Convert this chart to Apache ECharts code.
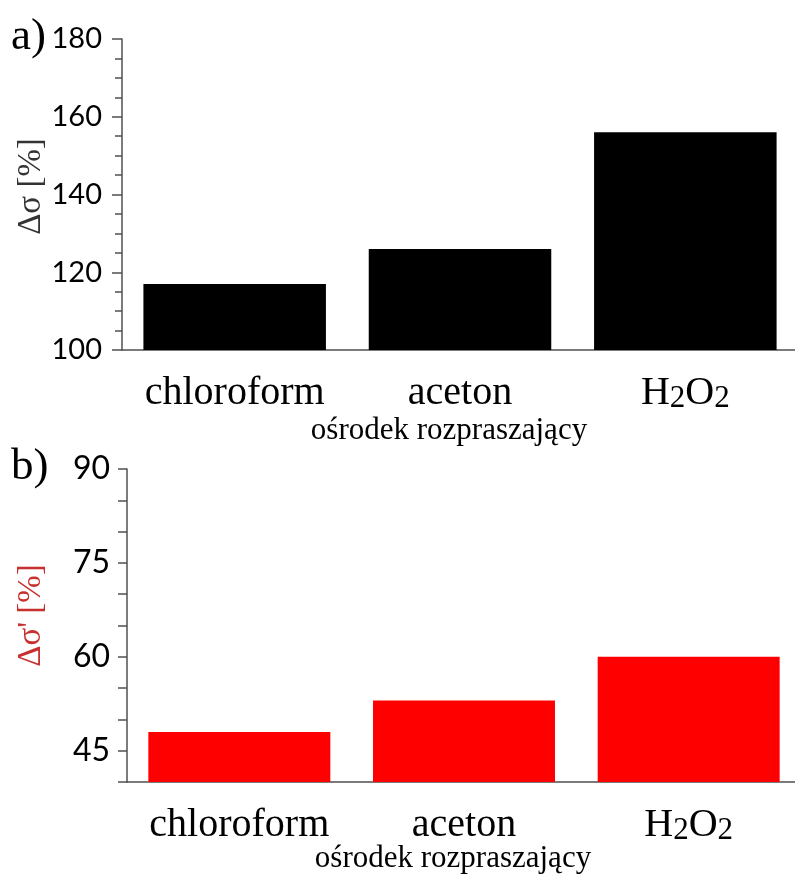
<!DOCTYPE html>
<html>
<head>
<meta charset="utf-8">
<script src="https://cdn.jsdelivr.net/npm/echarts@6/dist/echarts.min.js"></script>
<style>
html,body{margin:0;padding:0;background:#fff;overflow:hidden;}
#c{width:795px;height:874px;}
</style>
</head>
<body>
<div id="c"></div>
<script>
// ---- data ----
const categories = ['chloroform', 'aceton', 'H2O2'];
const sigmaValues = [117, 126, 156];        // panel a) Δσ [%]
const sigmaPrimeValues = [48, 53, 60];      // panel b) Δσ' [%]
const topMajorTicks = [100, 120, 140, 160, 180];
const bottomMajorTicks = [45, 60, 75, 90];
const xTitle = 'ośrodek rozpraszający';
const yTitleTop = 'Δσ [%]';
const yTitleBottom = "Δσ' [%]";

const SERIF = '"Liberation Serif","Times New Roman",serif';
const SANS = 'Lato, "Open Sans", sans-serif';
const AX = '#505050';

function catFormatter(v) {
  // render digits as subscripts (chemical formula)
  let out = '';
  let buf = '';
  for (const ch of v) {
    if (/[0-9]/.test(ch)) {
      if (buf) { out += '{n|' + buf + '}'; buf = ''; }
      out += '{s|' + ch + '}';
    } else buf += ch;
  }
  if (buf) out += '{n|' + buf + '}';
  return out;
}

const catLabel = {
  interval: 0,
  margin: 23,
  color: '#000',
  fontFamily: SERIF,
  fontSize: 40,
  lineHeight: 46,
  formatter: catFormatter,
  rich: {
    n: { fontFamily: SERIF, fontSize: 40, lineHeight: 46, verticalAlign: 'top', color: '#000' },
    s: { fontFamily: SERIF, fontSize: 31, lineHeight: 46, verticalAlign: 'top', padding: [10, 0, 0, 0], color: '#000' }
  }
};

function xAxisCfg(gridIndex, gap) {
  return {
    type: 'category',
    gridIndex: gridIndex,
    data: categories,
    axisLine: { lineStyle: { color: AX, width: 1.5 } },
    axisTick: { alignWithLabel: true, interval: 0, length: 13, lineStyle: { color: AX, width: 1.5 } },
    axisLabel: catLabel,
    name: xTitle,
    nameLocation: 'middle',
    nameGap: gap,
    nameMoveOverlap: false,
    nameTextStyle: { fontFamily: SERIF, fontSize: 31, color: '#000', padding: [0, 22, 0, 0] }
  };
}

const option = {
  animation: false,
  backgroundColor: '#fff',
  grid: [
    { left: 122, top: 39, width: 676, height: 311, containLabel: false, outerBoundsMode: 'none' },
    { left: 127, top: 469, width: 674, height: 313, containLabel: false, outerBoundsMode: 'none' }
  ],
  xAxis: [xAxisCfg(0, 65), xAxisCfg(1, 61)],
  yAxis: [
    {
      type: 'value', gridIndex: 0, min: 100, max: 180, interval: 20,
      axisLine: { show: true, lineStyle: { color: AX, width: 1.5 } },
      axisTick: { show: true, length: 10, lineStyle: { color: AX, width: 1.5 } },
      minorTick: { show: true, splitNumber: 4, length: 7, lineStyle: { color: AX, width: 1.5 } },
      splitLine: { show: false },
      axisLabel: {
        margin: 20, color: '#000', fontFamily: SANS, fontSize: 29,
        formatter: v => topMajorTicks.includes(v) ? String(v) : ''
      },
      name: yTitleTop,
      nameLocation: 'middle',
      nameGap: 74,
      nameMoveOverlap: false,
      nameTextStyle: { fontFamily: SERIF, fontSize: 33, color: '#333', padding: [0, 0, 0, 16] }
    },
    {
      type: 'value', gridIndex: 1, min: 40, max: 90, interval: 5,
      axisLine: { show: true, lineStyle: { color: AX, width: 1.5 } },
      axisTick: { show: true, length: 9, lineStyle: { color: AX, width: 1.5 } },
      splitLine: { show: false },
      axisLabel: {
        margin: 17, color: '#000', fontFamily: SANS, fontSize: 32, showMinLabel: true,
        formatter: v => bottomMajorTicks.includes(v) ? String(v) : ''
      },
      name: yTitleBottom,
      nameLocation: 'middle',
      nameGap: 79,
      nameMoveOverlap: false,
      nameTextStyle: { fontFamily: SERIF, fontSize: 33, color: '#c8302f', padding: [0, 0, 0, 20] }
    }
  ],
  series: [
    {
      type: 'bar', xAxisIndex: 0, yAxisIndex: 0, data: sigmaValues,
      barCategoryGap: '19%', itemStyle: { color: '#000' }
    },
    {
      type: 'bar', xAxisIndex: 1, yAxisIndex: 1, data: sigmaPrimeValues,
      barCategoryGap: '19%', itemStyle: { color: '#ff0000' }
    }
  ],
  graphic: [
    { type: 'text', left: 11, top: 15, style: { text: 'a)', fontFamily: SERIF, fontSize: 45, fill: '#000' } },
    { type: 'text', left: 11, top: 445, style: { text: 'b)', fontFamily: SERIF, fontSize: 45, fill: '#000' } }
  ]
};

const chart = echarts.init(document.getElementById('c'), null, { renderer: 'canvas' });
chart.setOption(option);
</script>
</body>
</html>
